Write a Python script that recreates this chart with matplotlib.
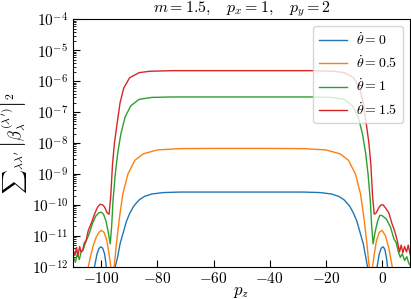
import numpy as np
import matplotlib
matplotlib.use("Agg")
import matplotlib.pyplot as plt
from matplotlib.ticker import FuncFormatter, LogLocator, NullFormatter, FixedLocator

plt.rcParams['mathtext.fontset'] = 'cm'

# theta_dot = 0
pz_0 = [-103.6, -102.4, -101.5, -100.8, -100.2, -99.5, -98.8, -98.3, -97.8,
        -95.6, -95.0, -94.2, -93.3, -92.3, -91.0, -89.9, -88.5, -86.5, -84.5,
        -82.0, -78.0, -72.0, -60.0, -50.0, -40.0, -28.0, -22.0, -18.0, -15.5,
        -13.5, -11.5, -10.1, -9.0, -7.7, -6.7, -5.8, -5.2, -2.2, -1.7, -1.0,
        -0.3, 0.4, 1.0, 1.7, 2.3]
val_0 = [4e-13, 1e-12, 2.6e-12, 3.9e-12, 4.4e-12, 4.0e-12, 2.6e-12, 1.2e-12, 4e-13,
         4e-13, 1e-12, 2.0e-12, 5.5e-12, 1.15e-11, 3.0e-11, 5.2e-11, 9.0e-11, 1.45e-10, 1.9e-10,
         2.25e-10, 2.5e-10, 2.6e-10, 2.6e-10, 2.6e-10, 2.6e-10, 2.6e-10, 2.5e-10, 2.25e-10, 1.9e-10,
         1.45e-10, 9.0e-11, 5.2e-11, 3.0e-11, 1.15e-11, 5.5e-12, 2.0e-12, 1e-12, 4e-13, 1.1e-12, 2.6e-12,
         4.0e-12, 4.4e-12, 3.6e-12, 1.6e-12, 4e-13]

# theta_dot = 0.5
pz_05 = [-105.5, -104.6, -103.8, -102.8, -101.8, -100.8, -100.0, -99.0, -98.0,
         -97.2, -96.6, -96.0, -95.3, -94.6, -93.5, -92.3, -90.5, -88.0, -85.0,
         -80.0, -72.0, -60.0, -50.0, -40.0, -28.0, -20.0, -15.0, -12.0, -9.5,
         -7.7, -6.5, -5.4, -4.7, -4.0, -3.4, -2.8, -2.0, -1.0, 0.0, 1.2, 2.4, 3.6, 4.3]
val_05 = [5e-13, 1e-12, 2.2e-12, 5e-12, 9e-12, 1.3e-11, 1.5e-11, 1.3e-11, 7e-12,
          2.5e-12, 1e-12, 5e-13, 1.2e-12, 5.5e-12, 4e-11, 2.3e-10, 1e-9, 2.8e-9, 4.5e-9,
          6e-9, 6.6e-9, 6.7e-9, 6.7e-9, 6.7e-9, 6.6e-9, 6e-9, 4.5e-9, 2.8e-9, 1e-9,
          2.3e-10, 4e-11, 5.5e-12, 1.2e-12, 5e-13, 1e-12, 2.5e-12, 7e-12, 1.3e-11, 1.5e-11, 1e-11, 4e-12, 1e-12, 5e-13]

# theta_dot = 1
pz_1 = [-110.0, -109.2, -108.5, -107.8, -107.2, -106.5, -105.6, -104.4, -103.2,
        -102.0, -100.8, -100.0, -99.2, -98.3, -97.5, -96.8, -96.3, -95.8, -95.0,
        -94.1, -93.0, -91.5, -89.5, -86.5, -82.0, -75.0, -60.0, -50.0, -40.0,
        -25.0, -18.0, -13.5, -10.5, -8.5, -7.0, -5.9, -5.0, -4.2, -3.7, -3.2,
        -2.5, -1.6, -0.8, 0.0, 1.5, 3.0, 4.2, 5.0, 5.8, 6.5, 7.2, 8.0, 8.8, 9.5, 10.0]
val_1 = [2.2e-12, 1.4e-12, 2.6e-12, 1.7e-12, 3.0e-12, 3.4e-12, 6e-12, 1.1e-11, 2.4e-11,
         4.3e-11, 5.6e-11, 5.8e-11, 5.0e-11, 3.0e-11, 1.3e-11, 5.5e-12, 2e-11, 1.4e-10, 1e-9,
         5e-9, 2e-8, 7e-8, 1.6e-7, 2.6e-7, 3.0e-7, 3.1e-7, 3.1e-7, 3.1e-7, 3.1e-7,
         3.1e-7, 3.0e-7, 2.6e-7, 1.6e-7, 7e-8, 2e-8, 5e-9, 1e-9, 1.4e-10, 2e-11, 5.5e-12,
         1.3e-11, 3.0e-11, 4.6e-11, 4.5e-11, 3.5e-11, 1.9e-11, 8e-12, 6e-12, 3e-12, 2e-12, 2.6e-12, 1.6e-12, 2.1e-12, 1.3e-12, 1.1e-12]

# theta_dot = 1.5
pz_15 = [-110.0, -109.4, -108.8, -108.3, -107.7, -107.2, -106.6, -106.0, -105.4,
         -104.6, -103.5, -102.4, -101.3, -100.4, -99.5, -98.8, -97.9, -97.2, -96.6,
         -96.0, -95.3, -94.4, -93.3, -92.0, -89.9, -86.5, -82.8, -75.0, -60.0,
         -50.0, -40.0, -25.0, -17.2, -13.5, -10.1, -8.0, -6.7, -5.6, -4.7, -4.0,
         -3.4, -2.8, -2.1, -1.2, -0.4, 0.4, 1.2, 2.4, 3.5, 4.5, 5.4, 6.2, 6.8, 7.4,
         8.0, 8.7, 9.3, 10.0]
val_15 = [3.5e-12, 2.3e-12, 4.2e-12, 2.2e-12, 4.5e-12, 3.0e-12, 3.4e-12, 6e-12, 7e-12,
          1.5e-11, 2.6e-11, 5e-11, 8.5e-11, 1.05e-10, 1.0e-10, 8.5e-11, 5.5e-11, 5e-11, 2e-10,
          2e-9, 1e-8, 4e-8, 2e-7, 6e-7, 1.3e-6, 1.9e-6, 2.1e-6, 2.2e-6, 2.2e-6,
          2.2e-6, 2.2e-6, 2.2e-6, 2.1e-6, 1.9e-6, 1.3e-6, 6e-7, 2e-7, 4e-8, 1e-8, 2e-9,
          2e-10, 5e-11, 5.5e-11, 8e-11, 1.0e-10, 1.0e-10, 8e-11, 5.5e-11, 2.5e-11, 1.4e-11, 7e-12, 3e-12, 5e-12, 2.8e-12,
          4.5e-12, 3e-12, 5e-12, 2.5e-12]

xticks = [-100, -80, -60, -40, -20, 0]
yticks = [1e-12, 1e-11, 1e-10, 1e-9, 1e-8, 1e-7, 1e-6, 1e-5, 1e-4]

series = [(pz_0, val_0, r'$\dot{\theta}=0$'),
          (pz_05, val_05, r'$\dot{\theta}=0.5$'),
          (pz_1, val_1, r'$\dot{\theta}=1$'),
          (pz_15, val_15, r'$\dot{\theta}=1.5$')]

fig = plt.figure(figsize=(4.11, 2.99), dpi=100)
ax = fig.add_axes([0.178, 0.108, 0.82, 0.827])

for x, y, lab in series:
    ax.plot(x, y, lw=1.0, label=lab)

ax.set_yscale('log')
ax.set_xlim(-110, 10)
ax.set_ylim(1e-12, 1e-4)

ax.xaxis.set_major_locator(FixedLocator(xticks))
ax.xaxis.set_major_formatter(FuncFormatter(lambda v, p: r'$%d$' % int(round(v))))
ax.yaxis.set_major_locator(FixedLocator(yticks))
ax.yaxis.set_minor_locator(LogLocator(base=10, subs=np.arange(2, 10), numticks=20))
ax.yaxis.set_major_formatter(FuncFormatter(lambda v, p: r'$10^{%d}$' % int(round(np.log10(v)))))
ax.yaxis.set_minor_formatter(NullFormatter())
ax.tick_params(axis='both', which='both', direction='in', labelsize=11)
ax.tick_params(axis='both', which='major', length=5)
ax.tick_params(axis='y', which='minor', length=2.5)
ax.tick_params(axis='x', pad=3)

ax.set_title(r'$m=1.5,\quad p_x=1,\quad p_y=2$', fontsize=11.5, pad=2)
ax.set_xlabel(r'$p_z$', fontsize=12, labelpad=-3)
ax.set_ylabel(r"$\sum{}_{\lambda\lambda'}\,\left|\beta_\lambda^{(\lambda')}\right|^2$", fontsize=12, labelpad=1)
ax.legend(loc='upper right', fontsize=10, handlelength=2.0, handletextpad=0.7)

fig.savefig('out.png', dpi=100)
